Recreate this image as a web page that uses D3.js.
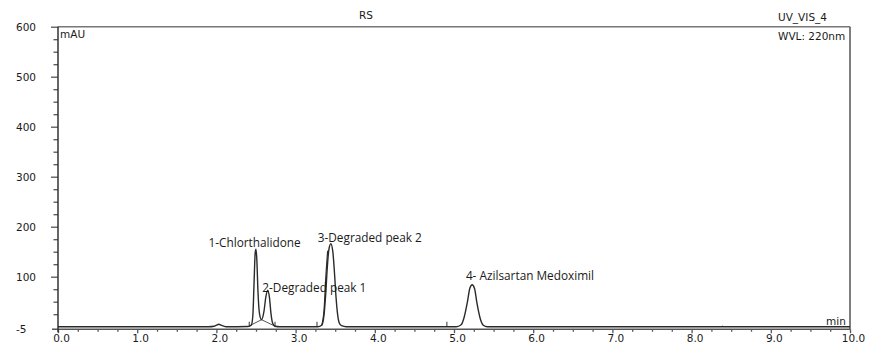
<!DOCTYPE html>
<html>
<head>
<meta charset="utf-8">
<script src="https://cdn.jsdelivr.net/npm/d3@7"></script>
<style>
  html, body { margin: 0; padding: 0; background: #fff; }
  svg { display: block; }
  text { fill: #1a1a1a; }
</style>
</head>
<body>
<svg id="chart" width="876" height="362"></svg>
<script>
// ---- data ----
const traceTime = [0.00, 1.90, 1.97, 2.00, 2.03, 2.06, 2.12, 2.40, 2.44, 2.46, 2.475, 2.49, 2.50, 2.51, 2.525, 2.545, 2.57, 2.60, 2.625, 2.648, 2.67, 2.69, 2.71, 2.74, 2.80,
                   3.28, 3.33, 3.36, 3.38, 3.40, 3.42, 3.445, 3.47, 3.49, 3.51, 3.53, 3.55, 3.58, 3.64,
                   5.03, 5.09, 5.13, 5.17, 5.20, 5.23, 5.26, 5.29, 5.33, 5.37, 5.42, 10.00];
const traceMAU  = [0, 0, 1, 3, 5, 3, 0, 0.5, 3, 22, 85, 148, 155, 136, 70, 25, 14, 30, 60, 73, 58, 25, 7, 1, 0,
                   0, 3, 25, 65, 118, 154, 166, 150, 110, 60, 25, 8, 2, 0,
                   0, 4, 20, 50, 77, 84, 76, 47, 17, 3, 0, 0];
// split top of peak 3 (overlaid trace)
const splitTime = [3.33, 3.36, 3.38, 3.405];
const splitMAU  = [3, 35, 95, 152];
// integration baseline under peaks 1 and 2
const integTime = [2.42, 2.57, 2.74];
const integMAU  = [2, 14, 1];
// peak delimiter marks
const markTime = [2.415, 2.74, 3.27, 4.91, 8.39];
const markMAU  = [10, 10, 10, 10, 2];
// peak labels
const peakNames = ["1-Chlorthalidone", "2-Degraded peak 1", "3-Degraded peak 2", "4- Azilsartan Medoximil"];
const peakLabelTime = [1.90, 2.58, 3.28, 5.15];
const peakLabelMAU  = [160, 69, 169, 93];
// axis ticks
const xTicks = [0,1,2,3,4,5,6,7,8,9,10];
const xMinorTicks = d3.range(0, 10.001, 0.25).filter(v => Math.abs(v - Math.round(v)) > 1e-6);
const yTicks = [100, 200, 300, 400, 500, 600];
const yTickLabels = ["-5", "100", "200", "300", "400", "500", "600"];
const yTickLabelValues = [-5, 100, 200, 300, 400, 500, 600];
const yMinorTicks = d3.range(25, 600, 25).filter(v => v % 100 !== 0);

// ---- layout ----
const svg = d3.select("#chart");
const L = 58, R = 850, T = 26.7, B = 329.2;
const x = d3.scaleLinear().domain([0, 10]).range([L, R]);
const y = d3.scaleLinear().domain([-5, 600]).range([B, T]);
const axisColor = "#555";
const font = "'DejaVu Sans', sans-serif";

// frame (top and right)
svg.append("line").attr("x1", L).attr("x2", R).attr("y1", T).attr("y2", T)
  .attr("stroke", "#777").attr("stroke-width", 1.5);
svg.append("line").attr("x1", R).attr("x2", R).attr("y1", T).attr("y2", B)
  .attr("stroke", axisColor).attr("stroke-width", 1.5);

// x axis
const gx = svg.append("g").attr("transform", `translate(0,${B})`);
gx.call(d3.axisBottom(x).tickValues(xTicks).tickSize(4).tickFormat(""));
gx.append("g").call(d3.axisBottom(x).tickValues(xMinorTicks).tickSize(2.5).tickFormat(""));
gx.selectAll("path.domain").remove();
gx.selectAll("line").attr("stroke", axisColor).attr("stroke-width", 1.3);
svg.append("line").attr("x1", L - 6).attr("x2", R).attr("y1", B).attr("y2", B)
  .attr("stroke", axisColor).attr("stroke-width", 1.5);
svg.append("g").selectAll("text").data(xTicks).join("text")
  .attr("x", d => x(d) + 3.5).attr("y", 342)
  .attr("text-anchor", "middle")
  .style("font-family", font).style("font-size", "10.5px")
  .text(d => d.toFixed(1));

// y axis
const gy = svg.append("g").attr("transform", `translate(${L},0)`);
gy.call(d3.axisLeft(y).tickValues(yTicks).tickSize(7).tickFormat(""));
gy.append("g").call(d3.axisLeft(y).tickValues(yMinorTicks).tickSize(4.5).tickFormat(""));
gy.selectAll("path.domain").remove();
gy.selectAll("line").attr("stroke", axisColor).attr("stroke-width", 1.3);
svg.append("line").attr("x1", L).attr("x2", L).attr("y1", T).attr("y2", B + 3)
  .attr("stroke", "#333").attr("stroke-width", 1.5);
svg.append("g").selectAll("text").data(yTickLabelValues).join("text")
  .attr("x", 16).attr("y", d => y(d) + 4)
  .style("font-family", font).style("font-size", "10.5px")
  .text((d, i) => yTickLabels[i]);

// header texts
svg.append("text").attr("x", 60).attr("y", 37.5).style("font-family", font).style("font-size", "10.5px").text("mAU");
svg.append("text").attr("x", 366).attr("y", 19).attr("text-anchor", "middle").style("font-family", font).style("font-size", "10.5px").text("RS");
svg.append("text").attr("x", 778).attr("y", 21).style("font-family", font).style("font-size", "10.5px").text("UV_VIS_4");
svg.append("text").attr("x", 778).attr("y", 40).style("font-family", font).style("font-size", "10.5px").text("WVL: 220nm");
svg.append("text").attr("x", 826).attr("y", 324.5).style("font-family", font).style("font-size", "10.5px").text("min");

// integration baseline
svg.append("path")
  .datum(integTime.map((t, i) => [t, integMAU[i]]))
  .attr("fill", "none").attr("stroke", "#555").attr("stroke-width", 1)
  .attr("d", d3.line().x(d => x(d[0])).y(d => y(d[1])));

// peak delimiter marks
svg.append("g").selectAll("line").data(markTime).join("line")
  .attr("x1", d => x(d)).attr("x2", d => x(d))
  .attr("y1", y(0)).attr("y2", (d, i) => y(markMAU[i]))
  .attr("stroke", "#444").attr("stroke-width", 1.1);

// trace
const line = d3.line().x(d => x(d[0])).y(d => y(d[1])).curve(d3.curveMonotoneX);
svg.append("path")
  .datum(traceTime.map((t, i) => [t, traceMAU[i]]))
  .attr("fill", "none").attr("stroke", "#2a2a2a").attr("stroke-width", 1.4)
  .attr("d", line);
svg.append("path")
  .datum(splitTime.map((t, i) => [t, splitMAU[i]]))
  .attr("fill", "none").attr("stroke", "#2a2a2a").attr("stroke-width", 1.2)
  .attr("d", line);

// peak labels
svg.append("g").selectAll("text").data(peakNames).join("text")
  .attr("x", (d, i) => x(peakLabelTime[i]))
  .attr("y", (d, i) => y(peakLabelMAU[i]))
  .style("font-family", "'Open Sans', sans-serif").style("font-size", "11.8px")
  .text(d => d);
</script>
</body>
</html>
